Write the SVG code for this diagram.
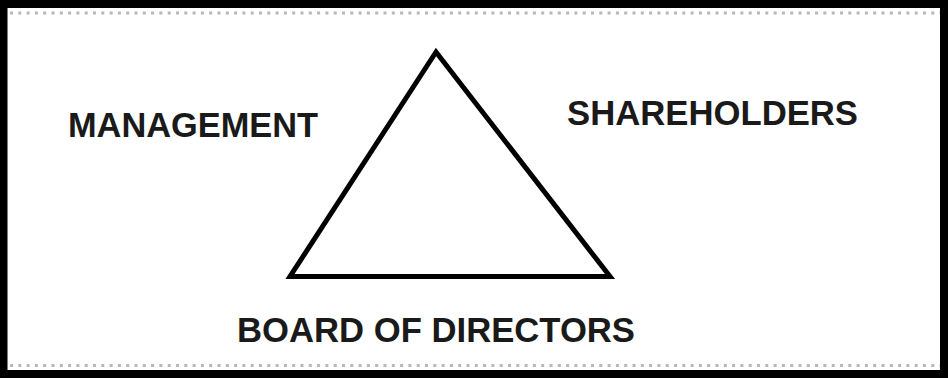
<svg xmlns="http://www.w3.org/2000/svg" width="948" height="378" viewBox="0 0 948 378">
<style>
.lbl{font-family:"Liberation Sans",Arial,sans-serif;font-weight:bold;font-size:35px;fill:#1a1a1a}
.dots{stroke:#b8b8b8;stroke-width:3;stroke-dasharray:3 5.3;fill:none}
</style>
<rect x="0" y="0" width="948" height="378" fill="#fff"/>
<rect x="3.5" y="4" width="940.5" height="370" fill="none" stroke="#000" stroke-width="8"/>
<line class="dots" x1="10" y1="13" x2="940" y2="13"/>
<line class="dots" x1="10" y1="365.5" x2="940" y2="365.5"/>
<g id="triangle">
<polygon points="436,52 290,276.5 610,276.5" fill="none" stroke="#000" stroke-width="5" stroke-linejoin="miter"/>
</g>
<g id="management"><text class="lbl" x="68" y="137" textLength="250" lengthAdjust="spacingAndGlyphs">MANAGEMENT</text></g>
<g id="shareholders"><text class="lbl" x="567" y="125" textLength="291" lengthAdjust="spacingAndGlyphs">SHAREHOLDERS</text></g>
<g id="board"><text class="lbl" x="237" y="341.5" textLength="398" lengthAdjust="spacingAndGlyphs">BOARD OF DIRECTORS</text></g>
<g id="connectors"></g>
</svg>
